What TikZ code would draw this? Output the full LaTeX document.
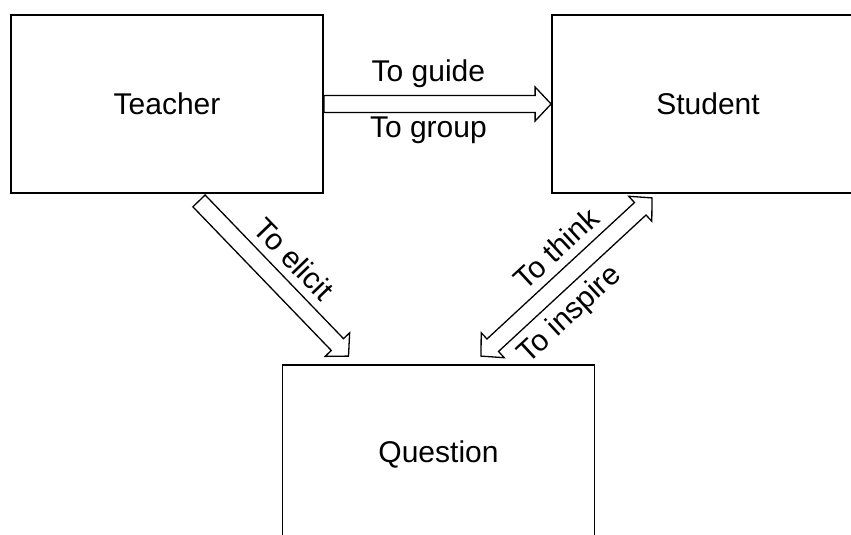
\documentclass[tikz,border=0pt]{standalone}
\usepackage{fontspec}
\setmainfont{Liberation Sans}
\usetikzlibrary{calc,positioning}

\begin{document}
\begin{tikzpicture}[x=1pt,y=-1pt,
        box/.style={draw, line width=1.8pt, minimum width=312pt, minimum height=178pt, inner sep=0pt, font=\fontsize{30}{35}\selectfont},
        arrowline/.style={line width=1.3pt, line join=miter},
        lbl/.style={font=\fontsize{30}{35}\selectfont, inner xsep=0pt}]
        \useasboundingbox (0,0) rectangle (851,535);
        \clip (0,0) rectangle (851,535);
        \newcommand{\arrshaft}{8.5pt}
        \newcommand{\arrhead}{17pt}
        \newcommand{\arrlen}{16pt}
        % hollow block arrow from #1 to #2
        \newcommand{\blockarrow}[2]{%
            \path ($(#2)!\arrlen!(#1)$) coordinate (hb);
            \draw[arrowline] ($(#1)!\arrshaft!90:(#2)$) -- ($(hb)!\arrshaft!90:(#2)$) -- ($(hb)!\arrhead!90:(#2)$) -- (#2)
                -- ($(hb)!\arrhead!-90:(#2)$) -- ($(hb)!\arrshaft!-90:(#2)$) -- ($(#1)!\arrshaft!-90:(#2)$) -- cycle;}
        % same, with a head at both ends
        \newcommand{\blockarrows}[2]{%
            \path ($(#1)!\arrlen!(#2)$) coordinate (ha) ($(#2)!\arrlen!(#1)$) coordinate (hb);
            \draw[arrowline] (#1) -- ($(ha)!\arrhead!90:(#2)$) -- ($(ha)!\arrshaft!90:(#2)$) -- ($(hb)!\arrshaft!90:(#2)$)
                -- ($(hb)!\arrhead!90:(#2)$) -- (#2) -- ($(hb)!\arrhead!-90:(#2)$) -- ($(hb)!\arrshaft!-90:(#2)$)
                -- ($(ha)!\arrshaft!-90:(#2)$) -- ($(ha)!\arrhead!-90:(#2)$) -- cycle;}

        \node[box] (teacher) at (167,104) {Teacher};
        \node[box] (student) at ($(teacher) + (541,0)$) {Student};
        \node[box] (question) at ($(teacher) + (271.5,350)$) {Question};

        \coordinate (elicit0) at ($(teacher.south) + (32,7)$);
        \coordinate (elicit1) at ($(question.north) + (-90,-8)$);
        \coordinate (think0) at ($(question.north) + (42.5,-8)$);
        \coordinate (think1) at ($(student.south) + (-56,4)$);

        \blockarrow{teacher.east}{student.west}
        \blockarrow{elicit0}{elicit1}
        \blockarrows{think0}{think1}

        \path (teacher.east) -- node[lbl, pos=0.46, above, inner ysep=16pt] {To guide}
            node[lbl, pos=0.46, below, inner ysep=12.5pt] {To group} (student.west);
        \path (elicit0) -- node[lbl, sloped, above, inner ysep=17pt] {To elicit} (elicit1);
        \path (think0) -- node[lbl, sloped, pos=0.55, above, inner ysep=17pt] {To think}
            node[lbl, sloped, pos=0.4, below, inner ysep=16pt] {To inspire} (think1);
    \end{tikzpicture}
\end{document}
